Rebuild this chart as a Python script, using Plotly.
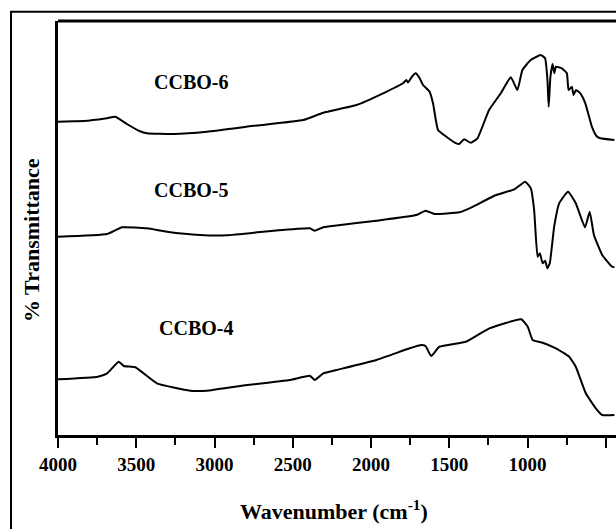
import plotly.graph_objects as go

# FTIR spectra of the three CCBO samples (vertically offset, arbitrary units)
wn_ccbo6 = [4000, 3900, 3835, 3700, 3633, 3560, 3480, 3431, 3261, 3049, 2730, 2433,
            2305, 2093, 1923, 1796, 1775, 1764, 1740, 1715, 1690, 1668, 1626, 1604,
            1572, 1519, 1456, 1437, 1405, 1363, 1320, 1246, 1171, 1107, 1065, 1033,
            980, 916, 888, 873, 865, 854, 840, 829, 819, 781, 749, 738, 717, 706,
            691, 663, 631, 589, 560, 535, 445]
t_ccbo6 = [313.3, 313.8, 314.0, 316.5, 318.3, 311.0, 304.0, 301.7, 301.0, 303.3, 309.5, 315.0,
           322.3, 330.0, 341.7, 351.7, 355.0, 352.5, 358.0, 361.7, 357.0, 350.0, 343.3, 331.7,
           305.0, 298.3, 291.7, 291.0, 295.7, 292.3, 296.7, 325.0, 341.7, 357.7, 345.0, 365.0,
           375.0, 380.0, 376.7, 355.0, 328.3, 358.3, 371.0, 361.7, 368.3, 366.7, 361.7, 345.0,
           348.3, 340.0, 345.0, 341.7, 331.7, 308.3, 299.0, 296.7, 295.0]

wn_ccbo5 = [4000, 3686, 3591, 3431, 3304, 3092, 2922, 2624, 2391, 2359, 2305, 2221,
            1966, 1711, 1652, 1594, 1435, 1371, 1201, 1085, 1015, 979, 958, 936,
            921, 904, 888, 873, 858, 830, 798, 741, 692, 633, 603, 576, 523, 460, 445]
t_ccbo5 = [198.3, 201.0, 207.7, 206.7, 203.3, 200.0, 199.7, 204.3, 206.7, 204.3, 207.7, 209.5,
           214.3, 220.0, 224.3, 221.0, 222.7, 226.7, 240.0, 245.7, 253.3, 246.7, 225.0, 178.3,
           181.7, 171.7, 174.3, 166.7, 171.7, 208.3, 231.7, 243.3, 231.7, 207.7, 223.3, 200.0,
           180.0, 168.3, 167.7]

wn_ccbo4 = [4000, 3745, 3686, 3612, 3580, 3506, 3368, 3156, 3049, 2837, 2519, 2391,
            2359, 2305, 2221, 1966, 1753, 1679, 1652, 1616, 1563, 1393, 1244, 1041,
            999, 967, 904, 819, 734, 692, 628, 564, 523, 445]
t_ccbo4 = [55.7, 58.3, 61.7, 73.3, 69.0, 67.7, 51.7, 44.3, 44.3, 49.0, 55.0, 59.3,
           55.0, 61.7, 65.0, 75.0, 86.7, 90.0, 89.0, 79.0, 88.3, 93.3, 106.7, 115.7,
           108.3, 95.0, 92.3, 86.7, 78.3, 68.3, 41.7, 26.7, 20.0, 20.0]

sample_names = ["CCBO-6", "CCBO-5", "CCBO-4"]
label_wn = [3398, 3398, 3366]
label_t = [353.5, 245.0, 107.5]

major_ticks = [4000, 3500, 3000, 2500, 2000, 1500, 1000, 500]
minor_ticks = [3750, 3250, 2750, 2250, 1750, 1250, 750]

FONT = "Liberation Serif, Times New Roman, serif"

fig = go.Figure()
for wn, t, name in zip([wn_ccbo6, wn_ccbo5, wn_ccbo4], [t_ccbo6, t_ccbo5, t_ccbo4], sample_names):
    fig.add_trace(go.Scatter(x=wn, y=t, mode="lines", name=name,
                             line=dict(color="black", width=2, shape="spline", smoothing=0.4),
                             showlegend=False))

for name, xw, yt in zip(sample_names, label_wn, label_t):
    fig.add_annotation(x=xw, y=yt, xref="x", yref="y", text=f"<b>{name}</b>",
                       showarrow=False, xanchor="left", yanchor="middle",
                       font=dict(family=FONT, size=20, color="black"))

fig.add_annotation(x=0.4946, y=-0.181, xref="paper", yref="paper",
                   text="<b>Wavenumber (cm<sup>-1</sup>)</b>", showarrow=False,
                   xanchor="center", yanchor="middle",
                   font=dict(family=FONT, size=22, color="black"))
fig.add_annotation(x=-0.0484, y=0.471, xref="paper", yref="paper",
                   text="<b>% Transmittance</b>", showarrow=False, textangle=-90,
                   xanchor="center", yanchor="middle",
                   font=dict(family=FONT, size=22, color="black"))

# outer figure border and top frame line
fig.add_shape(type="rect", xref="paper", yref="paper", x0=-0.0842, x1=1.2, y0=-0.4, y1=1.0225,
              line=dict(color="black", width=2), fillcolor="rgba(0,0,0,0)", layer="above")
fig.add_shape(type="line", xref="paper", yref="paper", x0=0, x1=1.2, y0=1, y1=1,
              line=dict(color="black", width=3), layer="above")

fig.update_xaxes(range=[4000, 435], tickmode="array", tickvals=major_ticks,
                 ticktext=[f"<b>{v}</b>" for v in major_ticks],
                 ticks="outside", ticklen=10, tickwidth=2, tickcolor="black",
                 showline=True, linewidth=3, linecolor="black", mirror=False,
                 showgrid=False, zeroline=False,
                 tickfont=dict(family=FONT, size=19, color="black"),
                 minor=dict(tickmode="array", tickvals=minor_ticks, ticks="outside",
                            ticklen=7, tickwidth=2, tickcolor="black", showgrid=False))
fig.update_yaxes(range=[0, 414], showticklabels=False, ticks="",
                 showline=True, linewidth=3, linecolor="black",
                 showgrid=False, zeroline=False)

fig.update_layout(width=616, height=529, margin=dict(l=58, r=0, t=21, b=94, autoexpand=False),
                  paper_bgcolor="white", plot_bgcolor="white",
                  font=dict(family=FONT, color="black"))

fig.write_html("out.html")
